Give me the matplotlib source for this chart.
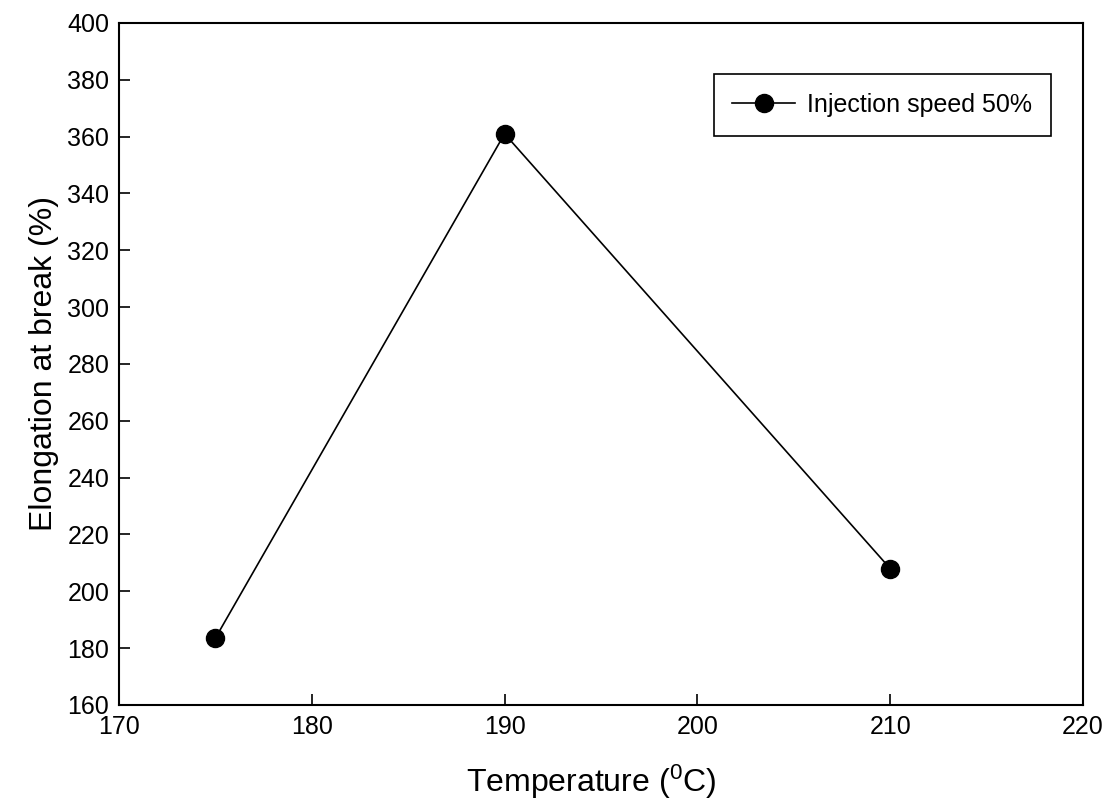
import matplotlib
matplotlib.use('agg')
import matplotlib.pyplot as plt

# data
temperature = [175, 190, 210]
elongation = [183.5, 361, 208]
series_name = 'Injection speed 50%'

x_ticks = [170, 180, 190, 200, 210, 220]
y_ticks = [160, 180, 200, 220, 240, 260, 280, 300, 320, 340, 360, 380, 400]

plt.rcParams['font.family'] = ['Liberation Sans', 'DejaVu Sans']
plt.rcParams['mathtext.fontset'] = 'custom'
plt.rcParams['mathtext.rm'] = 'Liberation Sans'
plt.rcParams['mathtext.it'] = 'Liberation Sans'

fig = plt.figure(figsize=(11.18, 8.09), dpi=100)
ax = fig.add_axes([0.1064, 0.1286, 0.8623, 0.843])

ax.plot(temperature, elongation, color='black', linewidth=1.2,
        marker='o', markersize=13, markerfacecolor='black',
        label=series_name)

ax.set_xlim(170, 220)
ax.set_ylim(160, 400)
ax.set_xticks(x_ticks)
ax.set_yticks(y_ticks)
ax.tick_params(direction='in', length=8, width=1.2, labelsize=18,
               top=False, right=False, pad=7)
for s in ax.spines.values():
    s.set_linewidth(1.5)

ax.set_xlabel('Temperature ($^0$C)', fontsize=23)
ax.xaxis.set_label_coords(0.49, -0.085)
ax.set_ylabel('Elongation at break (%)', fontsize=23, labelpad=6)

leg = ax.legend(loc='upper right', bbox_to_anchor=(0.967, 0.925),
                borderaxespad=0, fontsize=18, fancybox=False,
                edgecolor='black', handlelength=2.5, handletextpad=0.5,
                markerscale=1.0, borderpad=0.75, framealpha=1)
leg.get_frame().set_linewidth(1.2)

plt.savefig('out.png', dpi=100)
